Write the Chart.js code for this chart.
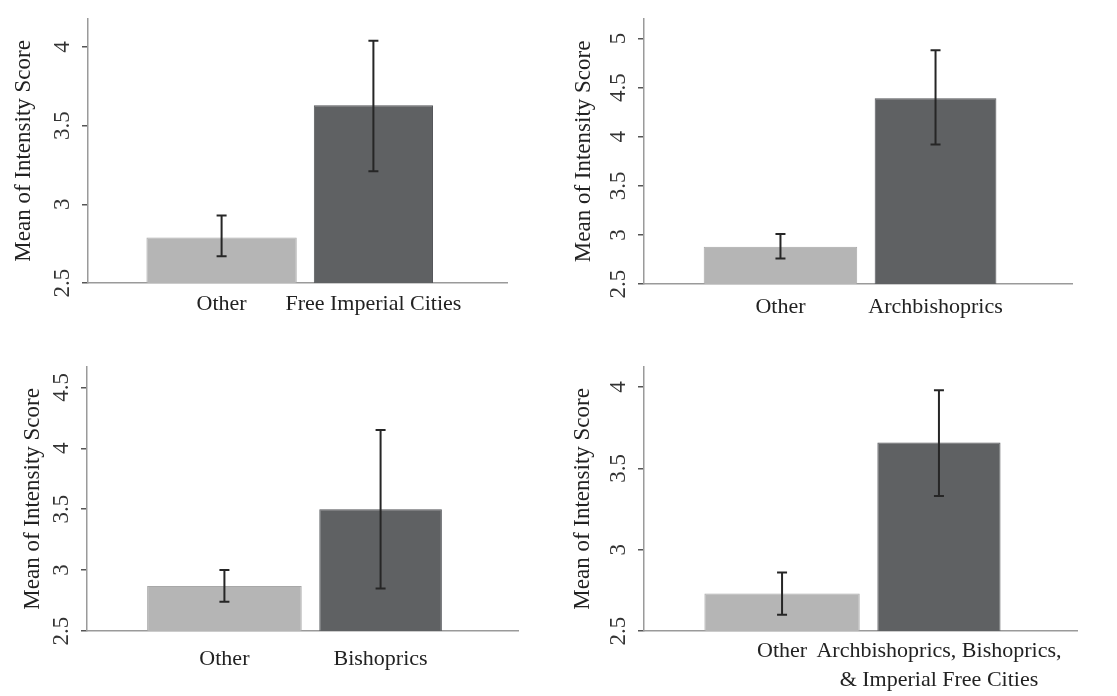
<!DOCTYPE html>
<html>
<head>
<meta charset="utf-8">
<script src="https://cdn.jsdelivr.net/npm/chart.js@4.4.1/dist/chart.umd.min.js"></script>
<style>
  body { margin: 0; background: #fff; }
  #wrap { position: relative; width: 1117px; height: 696px; }
  .panel { position: absolute; }
</style>
</head>
<body>
<div id="wrap">
  <div class="panel" style="left:0;top:0"><canvas id="c0" width="557" height="348"></canvas></div>
  <div class="panel" style="left:557px;top:0"><canvas id="c1" width="560" height="348"></canvas></div>
  <div class="panel" style="left:0;top:348px"><canvas id="c2" width="557" height="348"></canvas></div>
  <div class="panel" style="left:557px;top:348px"><canvas id="c3" width="560" height="348"></canvas></div>
</div>
<script>
// values (means with confidence intervals)
const otherLabel = 'Other';
const groupLabels = [
  'Free Imperial Cities',
  'Archbishoprics',
  'Bishoprics',
  ['Archbishoprics, Bishoprics,', '& Imperial Free Cities']
];
const otherMean = [2.79, 2.88, 2.87, 2.73];
const otherLow  = [2.67, 2.76, 2.74, 2.60];
const otherHigh = [2.93, 3.01, 3.00, 2.86];
const groupMean = [3.63, 4.39, 3.50, 3.66];
const groupLow  = [3.21, 3.92, 2.85, 3.33];
const groupHigh = [4.04, 4.88, 4.15, 3.98];
const yTicks = [
  [2.5, 3, 3.5, 4],
  [2.5, 3, 3.5, 4, 4.5, 5],
  [2.5, 3, 3.5, 4, 4.5],
  [2.5, 3, 3.5, 4]
];
const yMax = [4.18, 5.2, 4.67, 4.125];

// plot area placement inside each canvas
const layoutOf = [
  { top: 10, bottom: 283, left: 88, right: 50, labelPad: 6,  titlePad: 10 },
  { top: 12, bottom: 284, left: 87, right: 45, labelPad: 8,  titlePad: 13 },
  { top: 10, bottom: 283, left: 87, right: 39, labelPad: 13, titlePad: 19 },
  { top: 10, bottom: 283, left: 87, right: 40, labelPad: 5,  titlePad: 12 }
];

Chart.defaults.font.family = "'Liberation Serif', 'DejaVu Serif', serif";
Chart.defaults.color = '#333';

function makePanel(i) {
  const lay = layoutOf[i];
  const canvas = document.getElementById('c' + i);

  const errorBars = {
    id: 'errorBars',
    afterDatasetsDraw(chart) {
      const ctx = chart.ctx;
      const xs = chart.scales.x, ys = chart.scales.y;
      const lows = [otherLow[i], groupLow[i]];
      const highs = [otherHigh[i], groupHigh[i]];
      ctx.save();
      ctx.strokeStyle = '#262626';
      ctx.lineWidth = 2;
      for (let k = 0; k < 2; k++) {
        const x = xs.getPixelForValue(k);
        const y1 = ys.getPixelForValue(lows[k]);
        const y2 = ys.getPixelForValue(highs[k]);
        ctx.beginPath();
        ctx.moveTo(x, y1); ctx.lineTo(x, y2);
        ctx.moveTo(x - 5, y1); ctx.lineTo(x + 5, y1);
        ctx.moveTo(x - 5, y2); ctx.lineTo(x + 5, y2);
        ctx.stroke();
      }
      ctx.restore();
    }
  };

  new Chart(canvas, {
    type: 'bar',
    data: {
      datasets: [
        {
          data: [{ x: 0, y: otherMean[i] }],
          backgroundColor: '#b5b5b5',
          borderColor: '#a8a8a8',
          borderWidth: 1,
          grouped: false,
          categoryPercentage: 1,
          barPercentage: 0.99
        },
        {
          data: [{ x: 1, y: groupMean[i] }],
          backgroundColor: '#5f6163',
          borderColor: '#54565a',
          borderWidth: 1,
          grouped: false,
          categoryPercentage: 1,
          barPercentage: 0.785
        }
      ]
    },
    options: {
      responsive: false,
      animation: false,
      layout: { padding: { top: lay.top, right: lay.right, left: 0, bottom: 0 } },
      plugins: { legend: { display: false }, tooltip: { enabled: false } },
      scales: {
        x: {
          type: 'linear',
          min: -0.88,
          max: 1.88,
          offset: false,
          afterBuildTicks: (s) => { s.ticks = [{ value: 0 }, { value: 1 }]; },
          afterFit: (s) => { s.height = 348 - lay.bottom; },
          grid: { display: false, drawTicks: false },
          border: { color: '#9a9a9a', width: 1.5 },
          ticks: {
            autoSkip: false,
            maxRotation: 0,
            padding: lay.labelPad,
            color: '#222',
            font: { size: 22, lineHeight: 1.35 },
            callback: (v) => v === 0 ? otherLabel : groupLabels[i]
          }
        },
        y: {
          min: 2.5,
          max: yMax[i],
          afterBuildTicks: (s) => { s.ticks = yTicks[i].map(v => ({ value: v })); },
          afterFit: (s) => { s.width = lay.left; },
          grid: { drawOnChartArea: false, tickLength: 6, color: '#555', lineWidth: 1.5 },
          border: { color: '#9a9a9a', width: 1.5 },
          ticks: {
            minRotation: 90,
            maxRotation: 90,
            crossAlign: 'center',
            padding: 5,
            color: '#333',
            font: { size: 23 },
            callback: (v) => String(v)
          },
          title: {
            display: true,
            text: 'Mean of Intensity Score',
            color: '#222',
            font: { size: 23 },
            padding: { top: lay.titlePad, bottom: 0 }
          }
        }
      }
    },
    plugins: [errorBars]
  });
}

for (let i = 0; i < 4; i++) makePanel(i);
</script>
</body>
</html>
